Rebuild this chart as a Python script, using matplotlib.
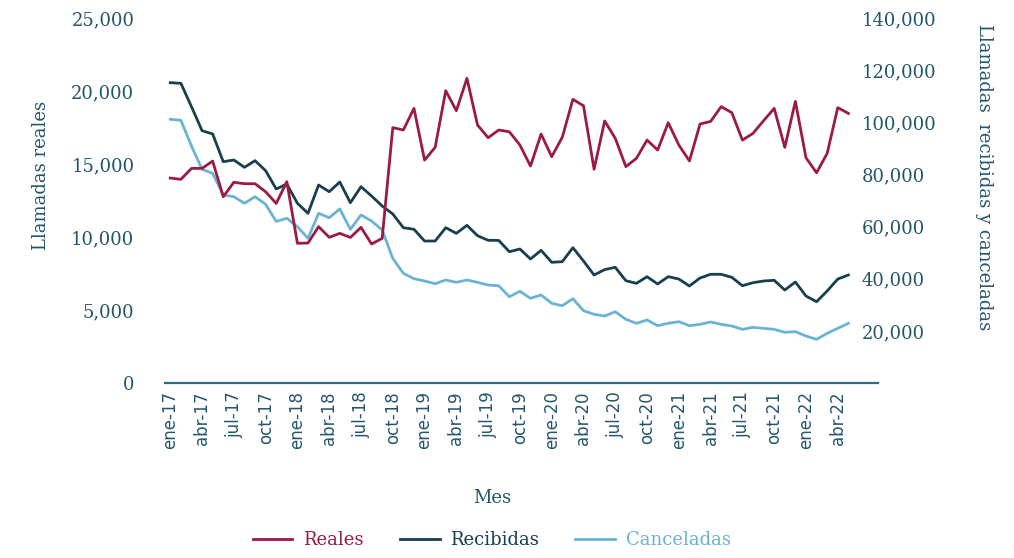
"""
Llamadas reales vs recibidas y canceladas, ene-17 a may-22
"""

import matplotlib
matplotlib.use('Agg')
import matplotlib.pyplot as plt
import numpy as np

# Meses ene-17 .. may-22
years = ['17', '18', '19', '20', '21', '22']
month_names = ['ene', 'feb', 'mar', 'abr', 'may', 'jun', 'jul', 'ago', 'sep', 'oct', 'nov', 'dic']
months = [f'{m}-{y}' for y in years for m in month_names][:65]

reales = [14040, 13950, 14700, 14700, 15200, 12760, 13750, 13650, 13650, 13100,
          12300, 13790, 9570, 9590, 10710, 9980, 10250, 9970, 10660, 9520,
          9910, 17490, 17330, 18810, 15270, 16140, 20020, 18650, 20870, 17670,
          16800, 17330, 17210, 16300, 14860, 17050, 15500, 16830, 19430, 18990,
          14640, 17950, 16760, 14820, 15390, 16640, 15960, 17830, 16300, 15210,
          17740, 17920, 18930, 18520, 16640, 17100, 17970, 18810, 16140, 19290,
          15430, 14400, 15730, 18860, 18470]

recibidas = [115200, 114960, 106000, 96790, 95520, 84900, 85540, 82740, 85280, 81440,
             74420, 76340, 68930, 65100, 75950, 73380, 77100, 69160, 75300, 71730,
             67900, 64830, 59570, 58960, 54470, 54470, 59570, 57400, 60490, 56510,
             54740, 54700, 50370, 51400, 47570, 50900, 46300, 46550, 51900, 46800,
             41430, 43500, 44380, 39240, 38240, 40780, 37980, 40780, 39890, 37210,
             40280, 41700, 41700, 40540, 37330, 38480, 39130, 39390, 35670, 38740,
             33370, 31190, 35290, 39890, 41430]

canceladas = [101160, 100770, 90910, 81980, 80440, 72120, 71470, 68930, 71470, 68550,
              62000, 63180, 59950, 55510, 65100, 63410, 66750, 58960, 64450, 62140,
              58690, 47800, 42080, 40010, 39130, 38100, 39510, 38620, 39510, 38620,
              37590, 37300, 33100, 35180, 32490, 33760, 30570, 29650, 32340, 27740,
              26350, 25700, 27350, 24430, 22890, 24170, 21990, 22890, 23530, 21990,
              22500, 23400, 22500, 21860, 20590, 21350, 20970, 20590, 19440, 19700,
              18030, 16750, 19060, 20970, 22890]

left_ticks = [0, 5000, 10000, 15000, 20000, 25000]
right_ticks = [20000, 40000, 60000, 80000, 100000, 120000, 140000]

# Colors
c_reales = '#9B1B42'
c_recibidas = '#173F4F'
c_canceladas = '#6BB3D3'
c_text = '#24566B'
c_axis = '#2E6A80'

x = np.arange(len(months))

fig = plt.figure(figsize=(10.14, 5.58), dpi=100)
ax = fig.add_axes([0.1627, 0.3136, 0.7032, 0.6541])
ax2 = ax.twinx()

l1, = ax.plot(x, reales, color=c_reales, lw=2.0, zorder=3)
l2, = ax2.plot(x, recibidas, color=c_recibidas, lw=2.0)
l3, = ax2.plot(x, canceladas, color=c_canceladas, lw=2.0)
ax.set_zorder(ax2.get_zorder() + 1)
ax.patch.set_visible(False)

ax.set_xlim(-0.5, 66.8)
ax.set_ylim(0, 25000)
ax2.set_ylim(0, 140000)

for spine in ['left', 'right', 'top']:
    ax.spines[spine].set_visible(False)
    ax2.spines[spine].set_visible(False)
ax2.spines['bottom'].set_visible(False)
ax.spines['bottom'].set_color(c_axis)
ax.spines['bottom'].set_linewidth(1.6)

serif = 'DejaVu Serif'

ax.set_yticks(left_ticks)
ax.set_yticklabels([f'{v:,}' for v in left_ticks], fontsize=13, family=serif, color=c_text)
ax.tick_params(axis='y', length=0, pad=22)

ax2.set_yticks(right_ticks)
ax2.set_yticklabels([f'{v:,}' for v in right_ticks], fontsize=13, family=serif, color=c_text)
ax2.tick_params(axis='y', length=0, pad=-12)

tick_pos = x[::3]
ax.set_xticks(tick_pos)
ax.set_xticklabels([months[i] for i in tick_pos], rotation=90, fontsize=12, color=c_text)
ax.tick_params(axis='x', length=0, pad=6)

fig.text(0.040, 0.685, 'Llamadas reales', rotation=90, ha='center', va='center',
         fontsize=13, family=serif, color=c_text)
fig.text(0.970, 0.683, 'Llamadas  recibidas y canceladas', rotation=270, ha='center', va='center',
         fontsize=13, family=serif, color=c_text)
fig.text(0.485, 0.108, 'Mes', ha='center', va='center', fontsize=13, family=serif, color=c_text)

leg = fig.legend([l1, l2, l3], ['Reales', 'Recibidas', 'Canceladas'], loc='center',
                 bbox_to_anchor=(0.485, 0.032), ncol=3, frameon=False, handlelength=2.2,
                 handletextpad=0.6, columnspacing=2.0, prop={'family': serif, 'size': 13},
                 labelcolor=[c_reales, c_recibidas, c_canceladas])

plt.savefig('out.png', dpi=100, facecolor='white')
plt.close()
